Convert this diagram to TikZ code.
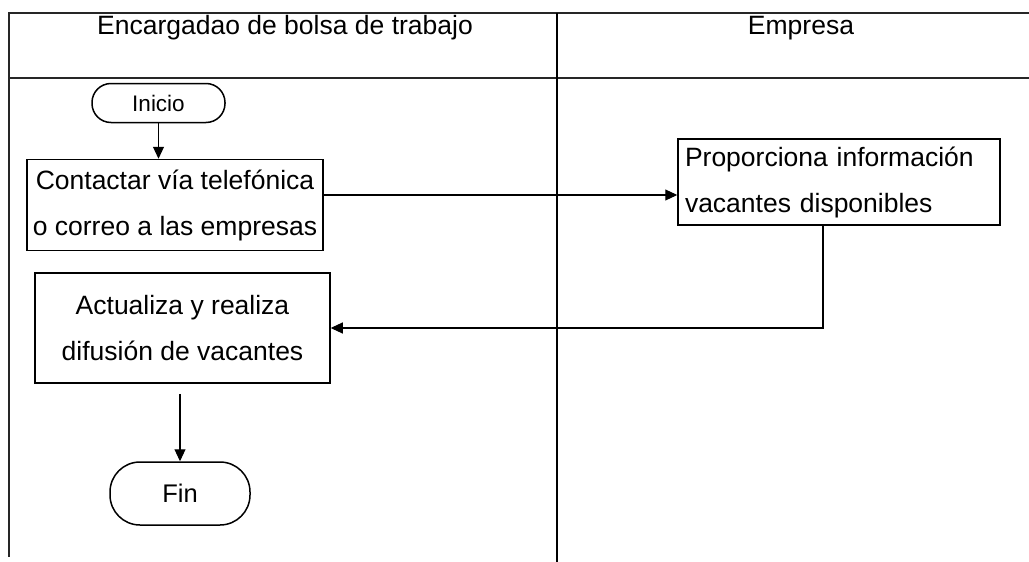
\documentclass[tikz,border=0pt]{standalone}
\usepackage{fontspec}
\setmainfont{Liberation Sans}
\usetikzlibrary{arrows.meta,calc}
\begin{document}
\begin{tikzpicture}[x=1pt,y=-1pt,
  frame/.style={line width=1.3pt,draw=black!85},
  box/.style={draw,line width=1.5pt,inner sep=0pt,align=center,font=\fontsize{26.5}{46}\selectfont},
  term/.style={draw,line width=1.5pt,inner sep=0pt},
  arr/.style={line width=1.1pt,-{Triangle[length=12pt,width=11pt]}},
  head/.style={font=\fontsize{26.5}{30}\selectfont,inner sep=0pt}
]
\useasboundingbox (0,0) rectangle (1029,562);
% lanes
\coordinate (tl) at (9,13);
\coordinate (tr) at (1029,13);
\coordinate (hl) at (9,78);
\coordinate (hr) at (1029,78);
\coordinate (bl) at (9,557);
\coordinate (dt) at (557,13);
\coordinate (db) at (557,562);
\draw[frame] (tr) -- (tl) -- (bl);
\draw[frame] (hl) -- (hr);
\draw[line width=1.1pt] (dt) -- (db);
\node[head] (h1) at (285,28) {Encargadao de bolsa de trabajo};
\node[head] (h2) at (801,28) {Empresa};
% nodes
\node[term,minimum width=133pt,minimum height=39pt,rounded corners=19pt,font=\fontsize{22.5}{26}\selectfont] (ini) at (158.5,103) {Inicio};
\node[box,minimum width=296pt,minimum height=91pt] (con) at (175,205) {Contactar vía telefónica\\o correo a las empresas};
\node[box,minimum width=322pt,minimum height=86pt,align=left,text width=308pt,inner xsep=7pt] (pro) at (839,182) {Proporciona información\\vacantes disponibles};
\node[box,minimum width=295pt,minimum height=110pt] (act) at (182.5,328) {Actualiza y realiza\\difusión de vacantes};
\node[term,minimum width=140pt,minimum height=63pt,rounded corners=30pt,font=\fontsize{25.5}{28}\selectfont] (fin) at (180,493.5) {Fin};
% connectors
\draw[arr] (ini.south) -- (ini.south |- con.north);
\draw[arr] ([yshift=10pt]con.east) -- ([yshift=10pt]con.east -| pro.west);
\draw[arr] ([xshift=-16pt]pro.south) |- (act.east);
\draw[arr] ([yshift=-10pt]fin.north |- act.south) -- (fin.north);
\end{tikzpicture}
\end{document}
